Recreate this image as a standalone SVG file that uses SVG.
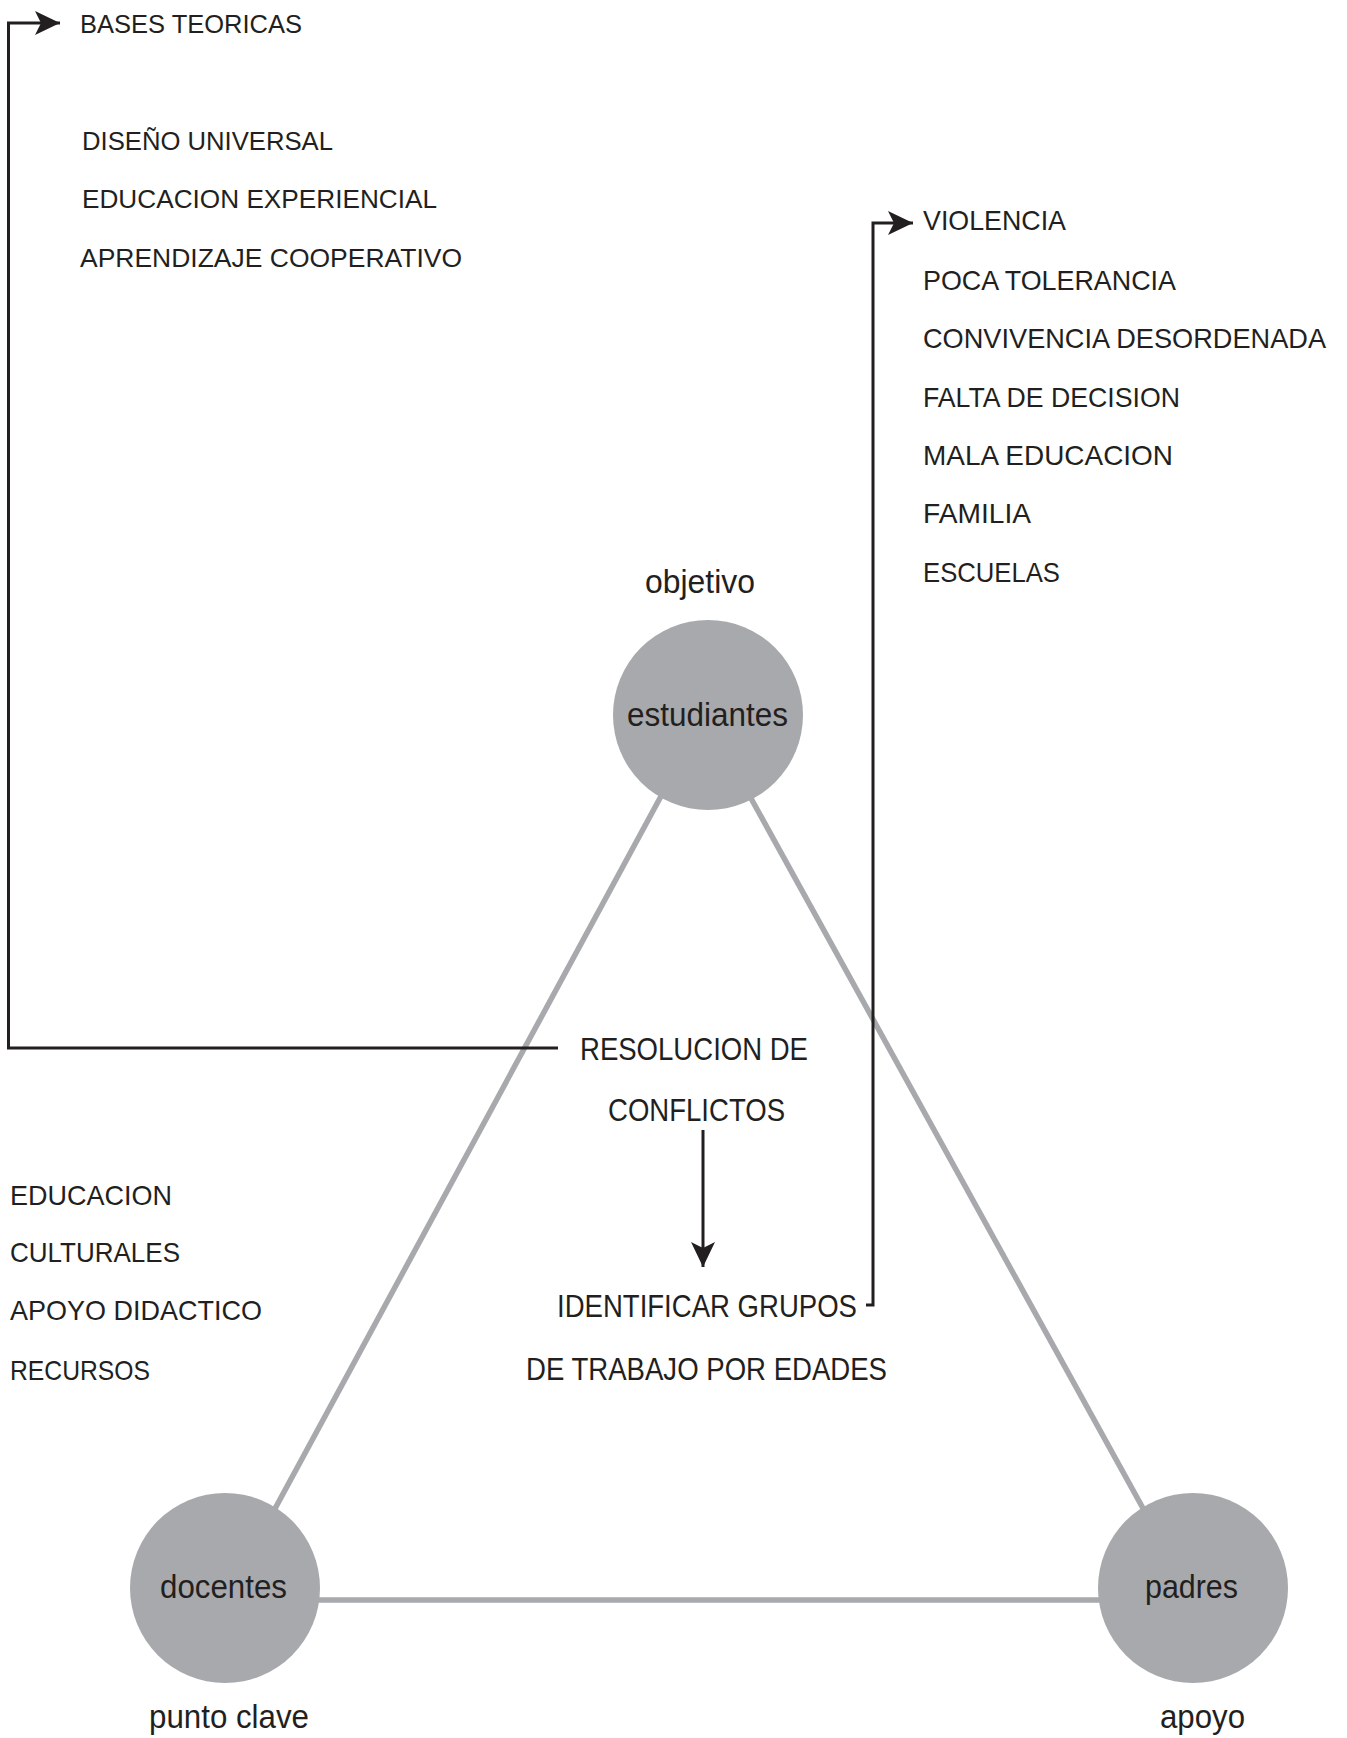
<svg xmlns="http://www.w3.org/2000/svg" width="1347" height="1738" viewBox="0 0 1347 1738">
<style>
.t{font-family:"Liberation Sans",Arial,sans-serif;fill:#231f20}
.list{font-size:26px}
.rlist{font-size:28px}
.mid{font-size:31px}
.lab{font-size:33px}
.edge{stroke:#a7a9ac;stroke-width:5.5;fill:none}
.conn{stroke:#231f20;stroke-width:3;fill:none}
.node{fill:#a7a9ac}
</style>
<defs>
<marker id="ah" markerUnits="userSpaceOnUse" markerWidth="27" markerHeight="26" refX="25" refY="12" orient="auto">
<path d="M0,0 L25,12 L0,24 L6,12 Z" fill="#231f20"/>
</marker>
</defs>
<rect width="1347" height="1738" fill="#ffffff"/>
<g id="connectors">
<line class="edge" x1="705" y1="715" x2="232" y2="1588"/>
<line class="edge" x1="705" y1="715" x2="1187" y2="1588"/>
<line class="edge" x1="225" y1="1600" x2="1193" y2="1600"/>
<path class="conn" d="M558 1048 H8.5 V23 H60" marker-end="url(#ah)"/>
<path class="conn" d="M866 1305 H873 V223 H913" marker-end="url(#ah)"/>
<path class="conn" d="M703 1130 V1267" marker-end="url(#ah)"/>
</g>
<g id="node-estudiantes">
<circle class="node" cx="708" cy="715" r="95"/>
<text class="t lab" x="627" y="726" textLength="161" lengthAdjust="spacingAndGlyphs">estudiantes</text>
<text class="t lab" x="645" y="593" textLength="110" lengthAdjust="spacingAndGlyphs">objetivo</text>
</g>
<g id="node-docentes">
<circle class="node" cx="225" cy="1588" r="95"/>
<text class="t lab" x="160" y="1598" textLength="127" lengthAdjust="spacingAndGlyphs">docentes</text>
<text class="t lab" x="149" y="1728" textLength="160" lengthAdjust="spacingAndGlyphs">punto clave</text>
</g>
<g id="node-padres">
<circle class="node" cx="1193" cy="1588" r="95"/>
<text class="t lab" x="1145" y="1598" textLength="93" lengthAdjust="spacingAndGlyphs">padres</text>
<text class="t lab" x="1160" y="1728" textLength="85" lengthAdjust="spacingAndGlyphs">apoyo</text>
</g>
<g id="bases-teoricas">
<text class="t list" x="80" y="33" textLength="222" lengthAdjust="spacingAndGlyphs">BASES TEORICAS</text>
<text class="t list" x="82" y="150" textLength="251" lengthAdjust="spacingAndGlyphs">DISEÑO UNIVERSAL</text>
<text class="t list" x="82" y="208" textLength="355" lengthAdjust="spacingAndGlyphs">EDUCACION EXPERIENCIAL</text>
<text class="t list" x="80" y="267" textLength="382" lengthAdjust="spacingAndGlyphs">APRENDIZAJE COOPERATIVO</text>
</g>
<g id="problemas">
<text class="t rlist" x="923" y="230" textLength="143" lengthAdjust="spacingAndGlyphs">VIOLENCIA</text>
<text class="t rlist" x="923" y="290" textLength="253" lengthAdjust="spacingAndGlyphs">POCA TOLERANCIA</text>
<text class="t rlist" x="923" y="348" textLength="403" lengthAdjust="spacingAndGlyphs">CONVIVENCIA DESORDENADA</text>
<text class="t rlist" x="923" y="407" textLength="257" lengthAdjust="spacingAndGlyphs">FALTA DE DECISION</text>
<text class="t rlist" x="923" y="465" textLength="250" lengthAdjust="spacingAndGlyphs">MALA EDUCACION</text>
<text class="t rlist" x="923" y="523" textLength="108" lengthAdjust="spacingAndGlyphs">FAMILIA</text>
<text class="t rlist" x="923" y="582" textLength="137" lengthAdjust="spacingAndGlyphs">ESCUELAS</text>
</g>
<g id="resolucion">
<text class="t mid" x="580" y="1060" textLength="228" lengthAdjust="spacingAndGlyphs">RESOLUCION DE</text>
<text class="t mid" x="608" y="1121" textLength="177" lengthAdjust="spacingAndGlyphs">CONFLICTOS</text>
</g>
<g id="identificar">
<text class="t mid" x="557" y="1317" textLength="300" lengthAdjust="spacingAndGlyphs">IDENTIFICAR GRUPOS</text>
<text class="t mid" x="526" y="1380" textLength="361" lengthAdjust="spacingAndGlyphs">DE TRABAJO POR EDADES</text>
</g>
<g id="recursos">
<text class="t rlist" x="10" y="1205" textLength="162" lengthAdjust="spacingAndGlyphs">EDUCACION</text>
<text class="t rlist" x="10" y="1262" textLength="170" lengthAdjust="spacingAndGlyphs">CULTURALES</text>
<text class="t rlist" x="10" y="1320" textLength="252" lengthAdjust="spacingAndGlyphs">APOYO DIDACTICO</text>
<text class="t rlist" x="10" y="1380" textLength="140" lengthAdjust="spacingAndGlyphs">RECURSOS</text>
</g>
</svg>
